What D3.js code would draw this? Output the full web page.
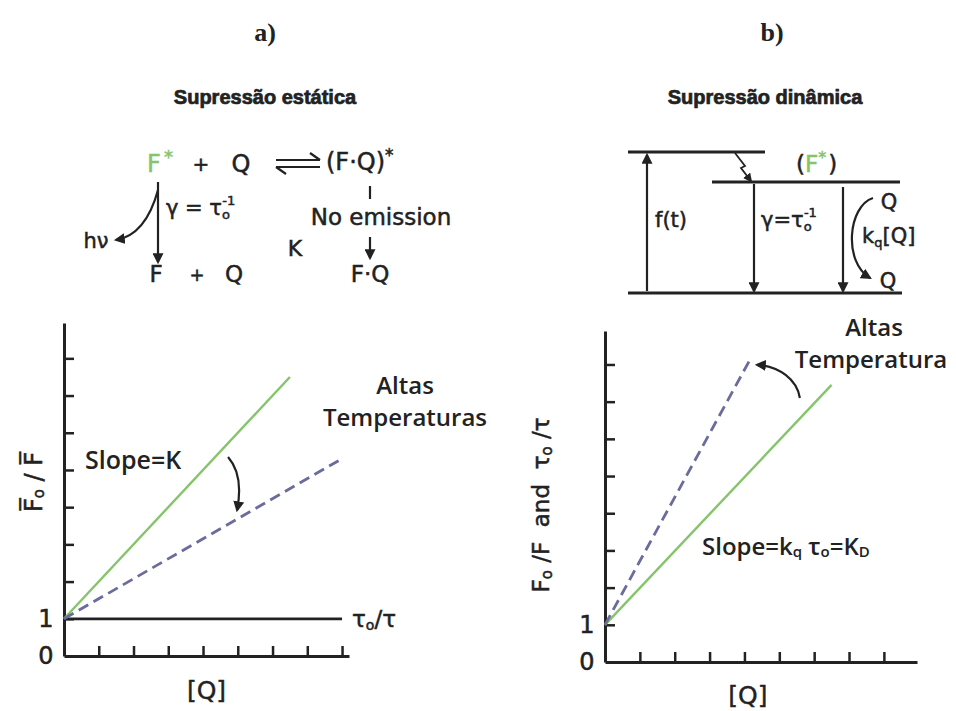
<!DOCTYPE html>
<html>
<head>
<meta charset="utf-8">
<script src="https://cdn.jsdelivr.net/npm/d3@7"></script>
<style>
  body { margin: 0; background: #fff; }
  text { fill: #222; }
</style>
</head>
<body>
<div id="svgContainer"></div>
<script>
// values
var tickValues = [1, 2, 3, 4, 5, 6, 7, 8];
var yLabelValues = [0, 1];

// a) static quenching: F0/F vs [Q]
var staticQ = [0, 6.5];
var staticF0F = [1, 7.5];
var staticHotQ = [0, 7.9];
var staticHotF0F = [1, 5.25];
var tauQ = [0, 8];
var tauRatio = [1, 1];

// b) dynamic quenching: F0/F and tau0/tau vs [Q]
var dynQ = [0, 6.5];
var dynF0F = [1, 7.45];
var dynHotQ = [0, 4.2];
var dynHotF0F = [1, 8.2];

var width = 956;
var height = 711;
var green = "#86c46c";
var dash = "#6b6b9c";
var ink = "#222";

var svg = d3.select("#svgContainer").append("svg")
  .attr("width", width)
  .attr("height", height);

svg.append("rect").attr("width", width).attr("height", height).attr("fill", "white");

var defs = svg.append("defs");
defs.append("marker")
  .attr("id", "arrow")
  .attr("viewBox", "0 0 10 10")
  .attr("refX", 8).attr("refY", 5)
  .attr("markerWidth", 5).attr("markerHeight", 5)
  .attr("orient", "auto-start-reverse")
  .append("path")
  .attr("d", "M0,0 L10,5 L0,10 Z")
  .attr("fill", ink);

var sans = "'Open Sans', 'DejaVu Sans', sans-serif";
var round = "'DejaVu Sans', sans-serif";

function txt(x, y, s, size, opts) {
  opts = opts || {};
  var t = svg.append("text")
    .attr("x", x).attr("y", y)
    .attr("font-family", opts.family || round)
    .attr("font-size", size)
    .attr("font-weight", opts.weight || "normal")
    .attr("text-anchor", opts.anchor || "start")
    .attr("dominant-baseline", "central")
    .style("fill", opts.fill || ink)
    .text(s);
  if (opts.heavy) t.style("stroke", opts.fill || ink).style("stroke-width", opts.heavy);
  return t;
}

function line(pts, opts) {
  opts = opts || {};
  var p = svg.append("path")
    .attr("d", d3.line()(pts))
    .attr("fill", "none")
    .attr("stroke", opts.stroke || ink)
    .attr("stroke-width", opts.w || 2);
  if (opts.arrow) p.attr("marker-end", "url(#arrow)");
  return p;
}

// panel titles
txt(265, 32, "a)", 26, { family: "'Liberation Serif', serif", weight: "bold", anchor: "middle" });
txt(772, 32, "b)", 26, { family: "'Liberation Serif', serif", weight: "bold", anchor: "middle" });
txt(265, 97, "Supressão estática", 20, { family: "'Liberation Sans', Arial, sans-serif", weight: "bold", anchor: "middle", heavy: 0.7 });
txt(765, 97, "Supressão dinâmica", 20, { family: "'Liberation Sans', Arial, sans-serif", weight: "bold", anchor: "middle", heavy: 0.7 });

// ---------- a) reaction scheme ----------
var s1 = { heavy: 0.5 };
txt(147, 164, "F", 24, { fill: green, heavy: 0.5 });
txt(164, 156, "*", 18, { fill: green, heavy: 0.5 });
txt(201, 164, "+", 20, { anchor: "middle", heavy: 0.5 });
txt(241, 164, "Q", 24, { anchor: "middle", heavy: 0.5 });
// equilibrium harpoons
line([[276, 160], [320, 160]], { w: 2.2 });
line([[320, 160], [310, 153]], { w: 2.2 });
line([[276, 167], [320, 167]], { w: 2.2 });
line([[276, 167], [286, 174]], { w: 2.2 });
var fq = txt(326, 162, "(F·Q)", 24, s1);
fq.append("tspan").attr("font-size", 17).attr("dy", -7).text("*");
line([[370, 186], [370, 199]], { w: 2.2 });
txt(381, 217, "No emission", 23, { anchor: "middle", heavy: 0.5 });
line([[370, 237], [370, 258]], { w: 2.2, arrow: true });
txt(295, 248, "K", 22, { anchor: "middle", heavy: 0.5 });
txt(370, 274, "F·Q", 23, { anchor: "middle", heavy: 0.5 });
txt(156, 274, "F", 23, { anchor: "middle", heavy: 0.5 });
txt(197, 274, "+", 18, { anchor: "middle", heavy: 0.5 });
txt(234, 274, "Q", 23, { anchor: "middle", heavy: 0.5 });
line([[158, 182], [158, 262]], { w: 2.2, arrow: true });
svg.append("path")
  .attr("d", "M158,190 C152,212 140,236 116,240")
  .attr("fill", "none").attr("stroke", ink).attr("stroke-width", 2.2)
  .attr("marker-end", "url(#arrow)");
txt(96, 241, "hν", 21, { anchor: "middle", heavy: 0.5 });
var g1 = txt(166, 208, "γ = τ", 21, s1);
g1.append("tspan").attr("font-size", 13).attr("dy", 6).text("o");
g1.append("tspan").attr("font-size", 13).attr("dy", -14).attr("dx", -8).text("-1");

// ---------- b) energy diagram ----------
line([[628, 152], [765, 152]], { w: 2.8 });
line([[712, 182], [900, 182]], { w: 2.8 });
line([[628, 293], [902, 293]], { w: 3.2 });
line([[735, 153], [745, 166], [741, 168], [751, 181]], { w: 1.8, arrow: true });
var fparen = txt(796, 164, "(", 23, s1);
fparen.append("tspan").style("fill", green).style("stroke", green).text("F");
fparen.append("tspan").style("fill", green).style("stroke", green).attr("font-size", 16).attr("dy", -7).text("*");
fparen.append("tspan").attr("dy", 7).attr("dx", 2).text(")");
line([[647, 291], [647, 155]], { w: 2.2, arrow: true });
txt(655, 220, "f(t)", 21, s1);
line([[754, 184], [754, 291]], { w: 2.2, arrow: true });
var g2 = txt(761, 220, "γ=τ", 21, s1);
g2.append("tspan").attr("font-size", 13).attr("dy", 6).text("o");
g2.append("tspan").attr("font-size", 13).attr("dy", -14).attr("dx", -8).text("-1");
line([[843, 187], [843, 291]], { w: 2.2, arrow: true });
svg.append("path")
  .attr("d", "M873,198 C848,206 843,262 870,278")
  .attr("fill", "none").attr("stroke", ink).attr("stroke-width", 2.2)
  .attr("marker-end", "url(#arrow)");
txt(889, 202, "Q", 21, { anchor: "middle", heavy: 0.5 });
txt(888, 281, "Q", 21, { anchor: "middle", heavy: 0.5 });
var kq = txt(862, 236, "k", 21, s1);
kq.append("tspan").attr("font-size", 13).attr("dy", 6).text("q");
kq.append("tspan").attr("dy", -6).text("[Q]");

// ---------- plots ----------
function drawPlot(x, y, qy) {
  var g = svg.append("g");
  g.append("g")
    .attr("transform", "translate(0," + y(0) + ")")
    .call(d3.axisBottom(x).tickValues(tickValues).tickSizeInner(-10).tickSizeOuter(0).tickFormat(""))
    .call(function(a) {
      a.select(".domain").attr("stroke", ink).attr("stroke-width", 3);
      a.selectAll(".tick line").attr("stroke", ink).attr("stroke-width", 2.5);
    });
  g.append("g")
    .attr("transform", "translate(" + x(0) + ",0)")
    .call(d3.axisLeft(y).tickValues(tickValues).tickSizeInner(-10).tickSizeOuter(0).tickFormat(""))
    .call(function(a) {
      a.select(".domain").attr("stroke", ink).attr("stroke-width", 3);
      a.selectAll(".tick line").attr("stroke", ink).attr("stroke-width", 2.5);
    });
  yLabelValues.forEach(function(v) {
    txt(x(0) - 18, y(v), String(v), 24, { anchor: "middle", heavy: 0.5 });
  });
  txt((x(0) + x(8.2)) / 2, qy, "[Q]", 25, { anchor: "middle", heavy: 0.4 });
}

// a)
var xL = d3.scaleLinear().domain([0, 8.2]).range([64, 349]);
var yL = d3.scaleLinear().domain([0, 8.95]).range([656, 323]);
var lineL = d3.line().x(function(d) { return xL(d[0]); }).y(function(d) { return yL(d[1]); });

drawPlot(xL, yL, 690);
svg.append("path").attr("d", lineL(d3.zip(tauQ, tauRatio)))
  .attr("stroke", ink).attr("stroke-width", 2.8).attr("fill", "none");
svg.append("path").attr("d", lineL(d3.zip(staticQ, staticF0F)))
  .attr("stroke", green).attr("stroke-width", 2.4).attr("fill", "none");
svg.append("path").attr("d", lineL(d3.zip(staticHotQ, staticHotF0F)))
  .attr("stroke", dash).attr("stroke-width", 2.8).attr("stroke-dasharray", "11,6").attr("fill", "none");

var tl = txt(xL(8.2) + 3, yL(1), "τ", 23, s1);
tl.append("tspan").attr("font-size", 14).attr("dy", 6).text("o");
tl.append("tspan").attr("dy", -6).text("/τ");

txt(85, yL(5.3), "Slope=K", 25, { family: sans, weight: 600 });
txt(405, 384, "Altas", 24, { family: sans, weight: 600, anchor: "middle" });
txt(405, 416, "Temperaturas", 24, { family: sans, weight: 600, anchor: "middle" });
svg.append("path")
  .attr("d", "M" + xL(4.72) + "," + yL(5.35) + " C" + xL(5.05) + "," + yL(5.0) + " " + xL(5.1) + "," + yL(4.5) + " " + xL(4.98) + "," + yL(3.92))
  .attr("fill", "none").attr("stroke", ink).attr("stroke-width", 2.2)
  .attr("marker-end", "url(#arrow)");

var ylab1 = svg.append("text")
  .attr("transform", "translate(34,482) rotate(-90)")
  .attr("font-family", round).attr("font-size", 24)
  .attr("text-anchor", "middle").attr("dominant-baseline", "central")
  .style("stroke", ink).style("stroke-width", 0.5);
ylab1.append("tspan").text("F\u0305");
ylab1.append("tspan").attr("font-size", 15).attr("dy", 5).text("o");
ylab1.append("tspan").attr("dy", -5).text("\u00a0/\u00a0F\u0305");

// b)
var xR = d3.scaleLinear().domain([0, 8.95]).range([605, 917]);
var yR = d3.scaleLinear().domain([0, 8.9]).range([662, 331]);
var lineR = d3.line().x(function(d) { return xR(d[0]); }).y(function(d) { return yR(d[1]); });

drawPlot(xR, yR, 695);
svg.append("path").attr("d", lineR(d3.zip(dynQ, dynF0F)))
  .attr("stroke", green).attr("stroke-width", 2.4).attr("fill", "none");
svg.append("path").attr("d", lineR(d3.zip(dynHotQ, dynHotF0F)))
  .attr("stroke", dash).attr("stroke-width", 2.8).attr("stroke-dasharray", "11,6").attr("fill", "none");

var sl = txt(702, 545, "Slope=k", 24, { family: sans, weight: 600 });
sl.append("tspan").attr("font-size", 15).attr("dy", 6).text("q");
sl.append("tspan").attr("dy", -6).text(" τ");
sl.append("tspan").attr("font-size", 15).attr("dy", 6).text("o");
sl.append("tspan").attr("dy", -6).text("=K");
sl.append("tspan").attr("font-size", 15).attr("dy", 6).text("D");
txt(874, 326, "Altas", 24, { family: sans, weight: 600, anchor: "middle" });
txt(871, 358, "Temperatura", 24, { family: sans, weight: 600, anchor: "middle" });
svg.append("path")
  .attr("d", "M" + xR(5.59) + "," + yR(7.1) + " C" + xR(5.5) + "," + yR(7.6) + " " + xR(5.0) + "," + yR(7.95) + " " + xR(4.36) + "," + yR(7.99))
  .attr("fill", "none").attr("stroke", ink).attr("stroke-width", 2.2)
  .attr("marker-end", "url(#arrow)");

var ylab2 = svg.append("text")
  .attr("transform", "translate(541,505) rotate(-90)")
  .attr("font-family", round).attr("font-size", 23)
  .attr("text-anchor", "middle").attr("dominant-baseline", "central")
  .style("stroke", ink).style("stroke-width", 0.5);
ylab2.append("tspan").text("F");
ylab2.append("tspan").attr("font-size", 15).attr("dy", 6).text("o");
ylab2.append("tspan").attr("dy", -6).text("\u00a0/F\u00a0\u00a0and\u00a0\u00a0τ");
ylab2.append("tspan").attr("font-size", 15).attr("dy", 6).text("o");
ylab2.append("tspan").attr("dy", -6).text("\u00a0/τ");
</script>
</body>
</html>
